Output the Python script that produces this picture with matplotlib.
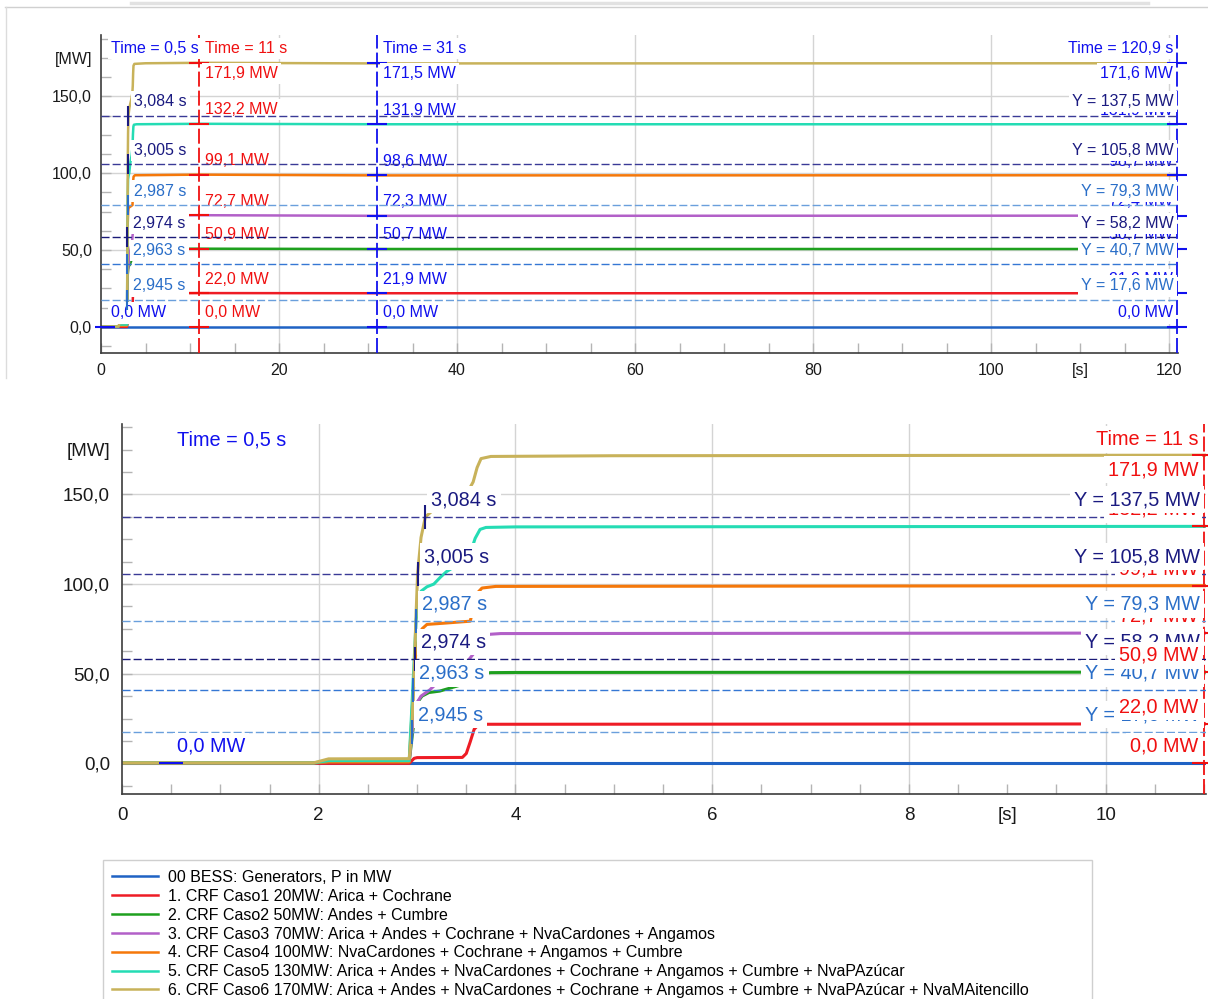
import matplotlib.pyplot as plt
from matplotlib.lines import Line2D
from matplotlib.patches import Rectangle
from matplotlib.ticker import MultipleLocator

plt.rcParams['font.family'] = ['Liberation Sans', 'DejaVu Sans']
plt.rcParams['lines.scale_dashes'] = False

W, H = 1208, 999

# curves: time [s], active power [MW]
t_bess = [0, 121]
p_bess = [0.0, 0.0]

t_caso1 = [0, 2.92, 2.97, 3.0, 3.46, 3.5, 3.54, 3.58, 3.62, 3.7, 11, 31, 121]
p_caso1 = [0.0, 0.0, 2.8, 3.2, 3.3, 5.5, 12.0, 19.0, 21.3, 21.8, 22.0, 21.9, 21.9]

t_caso2 = [0, 1.95, 2.1, 2.92, 2.95, 2.99, 3.05, 3.12, 3.23, 3.4, 3.55, 3.62, 3.68, 3.75, 4.0, 11, 31, 121]
p_caso2 = [0.2, 0.2, 1.0, 1.0, 15.0, 33.0, 37.5, 39.5, 40.3, 43.0, 45.5, 48.5, 50.2, 50.6, 50.7, 50.9, 50.7, 50.7]

t_caso3 = [0, 1.95, 2.1, 2.92, 2.95, 2.99, 3.04, 3.13, 3.3, 3.5, 3.6, 3.67, 3.74, 3.85, 11, 31, 121]
p_caso3 = [0.2, 0.2, 1.0, 1.0, 18.0, 33.0, 37.5, 41.0, 50.0, 56.0, 63.0, 70.0, 72.0, 72.4, 72.7, 72.3, 72.4]

t_caso4 = [0, 1.95, 2.1, 2.92, 2.95, 2.99, 3.05, 3.1, 3.3, 3.54, 3.58, 3.62, 3.66, 3.8, 11, 31, 121]
p_caso4 = [0.3, 0.3, 0.8, 0.8, 30.0, 65.0, 75.0, 77.5, 78.3, 79.3, 88.0, 95.5, 97.8, 98.7, 99.1, 98.6, 98.7]

t_caso5 = [0, 1.95, 2.1, 2.92, 2.95, 2.99, 3.04, 3.1, 3.17, 3.24, 3.3, 3.45, 3.54, 3.59, 3.64, 3.7, 4.0, 11, 31, 121]
p_caso5 = [0.3, 0.3, 1.5, 1.5, 35.0, 80.0, 96.0, 98.5, 100.0, 104.0, 107.0, 112.0, 117.0, 125.5, 130.5, 131.6, 131.9, 132.2, 131.9, 131.9]

t_caso6 = [0, 1.95, 2.1, 2.92, 2.945, 2.963, 2.974, 2.987, 3.005, 3.04, 3.084, 3.2, 3.4, 3.52, 3.57, 3.61, 3.65, 3.75, 5.0, 11, 31, 121]
p_caso6 = [0.3, 0.3, 2.5, 2.6, 17.6, 40.7, 58.2, 79.3, 105.8, 126.0, 137.5, 143.0, 148.0, 152.0, 157.0, 165.0, 170.0, 171.2, 171.6, 171.9, 171.5, 171.6]

names = [
    "00 BESS: Generators, P in MW",
    "1. CRF Caso1 20MW: Arica + Cochrane",
    "2. CRF Caso2 50MW: Andes + Cumbre",
    "3. CRF Caso3 70MW: Arica + Andes + Cochrane + NvaCardones + Angamos",
    "4. CRF Caso4 100MW: NvaCardones + Cochrane + Angamos + Cumbre",
    "5. CRF Caso5 130MW: Arica + Andes + NvaCardones + Cochrane + Angamos + Cumbre + NvaPAzúcar",
    "6. CRF Caso6 170MW: Arica + Andes + NvaCardones + Cochrane + Angamos + Cumbre + NvaPAzúcar + NvaMAitencillo",
]
colors = ['#1f62c4', '#ee1c25', '#1ea01e', '#b260c8', '#f5780a', '#24dcb4', '#c8b25a']
times = [t_bess, t_caso1, t_caso2, t_caso3, t_caso4, t_caso5, t_caso6]
powers = [p_bess, p_caso1, p_caso2, p_caso3, p_caso4, p_caso5, p_caso6]

# horizontal (Y) cursors: level and the time the Caso6 curve crosses it
ycur_values = [137.5, 105.8, 79.3, 58.2, 40.7, 17.6]
ycur_times = [3.084, 3.005, 2.987, 2.974, 2.963, 2.945]
ycur_line_colors = ['#3a3a96', '#3a3a96', '#6a9fdc', '#1a1a78', '#3577d4', '#6a9fdc']
ycur_text_colors = ['#1a1a80', '#1a1a80', '#2a6ec8', '#1a1a80', '#2a6ec8', '#2a6ec8']
ycur_layer = [5, 5, 5, 3.5, 3.5, 3.5]

# vertical (time) cursors and the values they read
vcur_times = [0.5, 11, 31, 120.9]
vcur_values = [
    [0.0],
    [171.9, 132.2, 99.1, 72.7, 50.9, 22.0, 0.0],
    [171.5, 131.9, 98.6, 72.3, 50.7, 21.9, 0.0],
    [171.6, 131.9, 98.7, 72.4, 50.7, 21.9, 0.0],
]
vcur_colors = ['#1010ee', '#f01010', '#1010ee', '#1010ee']
vcur_line = [False, True, True, True]
vcur_layer = [4, 4, 4, 3]

y_ticks = [0, 50, 100, 150]


def comma(v, f):
    return format(v, f).replace('.', ',')


def px_y(ax, y):
    return ax.transData.transform((0, y))[1]


def panel(ax, xmax, ylim, x_step, x_minor, x_unit, fs_tick, fs_lab, lw, off, gap,
          mk, dash_z, xpad, ypad, rdx):
    ax.set_xlim(0, xmax)
    ax.set_ylim(*ylim)
    for s in ['top', 'right']:
        ax.spines[s].set_visible(False)
    for s in ['left', 'bottom']:
        ax.spines[s].set_color('#3c3c3c')
        ax.spines[s].set_linewidth(1.2)
        ax.spines[s].set_zorder(2.4)

    x_major = [x_step * i for i in range(int(xmax // x_step) + 1)]
    for x in x_major[1:]:
        ax.axvline(x, color='#d4d4d4', lw=1, zorder=0.5)
    for y in y_ticks[1:]:
        ax.axhline(y, color='#d4d4d4', lw=1, zorder=0.5)

    ax.set_xticks(x_major + [x_unit])
    ax.set_xticklabels([str(int(x)) for x in x_major] + ['[s]'])
    ax.set_yticks(y_ticks + [175])
    ax.set_yticklabels([comma(v, '.1f') for v in y_ticks] + ['[MW]'])
    ax.xaxis.set_minor_locator(MultipleLocator(x_minor))
    ax.yaxis.set_minor_locator(MultipleLocator(12.5))
    ax.tick_params(which='both', direction='in', color='#b4b4b4', length=7, width=1,
                   labelsize=fs_tick, labelcolor='#1a1a1a')
    ax.tick_params(axis='x', which='both', pad=xpad)
    ax.tick_params(axis='y', which='both', pad=ypad)

    lines = []
    for t, p, c, n in zip(times, powers, colors, names):
        ln, = ax.plot(t, p, color=c, lw=lw, label=n, zorder=2, solid_joinstyle='round')
        lines.append(ln)

    box = dict(boxstyle='square,pad=0.2', fc='white', ec='none')

    # Y cursors
    for v, tc, lc, tx, z in zip(ycur_values, ycur_times, ycur_line_colors,
                                ycur_text_colors, ycur_layer):
        ax.axhline(v, color=lc, lw=1, ls=(0, (5.8, 2.2)), zorder=dash_z)
        ax.plot([tc], [v], ls='none', marker='|', ms=mk, mew=1.5, color=tx, zorder=dash_z + 0.1)
        ax.annotate(comma(tc, '.3f') + ' s', (tc, v), xytext=(6, off), textcoords='offset pixels',
                    ha='left', va='center', color=tx, fontsize=fs_lab, zorder=z, bbox=box)
        ax.annotate('Y = ' + comma(v, '.1f') + ' MW', (xmax, v), xytext=(rdx, off),
                    textcoords='offset pixels', ha='right', va='center', color=tx,
                    fontsize=fs_lab, zorder=z, bbox=box)

    # time cursors
    y_time = ylim[0] + 0.958 * (ylim[1] - ylim[0])
    t_px = px_y(ax, y_time)
    for tc, vals, col, has_line, z in zip(vcur_times, vcur_values, vcur_colors,
                                          vcur_line, vcur_layer):
        if tc > xmax:
            continue
        if has_line:
            ax.axvline(tc, color=col, lw=1.3, ls=(0, (10.8, 2.9)), zorder=2.5)
        ax.plot([tc] * len(vals), vals, ls='none', marker='_', ms=mk, mew=1.5,
                color=col, zorder=2.6, clip_on=False)
        right = tc > 0.9 * xmax
        ha = 'right' if right else 'left'
        dx = rdx if right else 6
        ax.annotate('Time = ' + comma(tc, 'g') + ' s', (tc, y_time), xytext=(dx, 0),
                    textcoords='offset pixels', ha=ha, va='center', color=col,
                    fontsize=fs_lab, zorder=z, bbox=box)
        for v in vals:
            v_px = px_y(ax, v)
            dy = min(v_px + off, t_px - gap) - v_px
            ax.annotate(comma(v, '.1f') + ' MW', (tc, v), xytext=(dx, dy),
                        textcoords='offset pixels', ha=ha, va='center', color=col,
                        fontsize=fs_lab, zorder=z, bbox=box)
    return lines


fig = plt.figure(figsize=(W / 100, H / 100), dpi=100)

ax1 = fig.add_axes([101 / W, 1 - 353 / H, (1178 - 101) / W, (353 - 35) / H])
lines = panel(ax1, 121, (-17, 190), 20, 5, 110, 11.5, 11.5, 1.8, 14, 25, 14, 6,
              7, 6.5, -4)

ax2 = fig.add_axes([122 / W, 1 - 794 / H, (1206 - 122) / W, (794 - 424) / H])
panel(ax2, 11.02, (-17.1, 189.3), 2, 0.5, 9, 13.5, 14.3, 2.2, 17, 30, 17, 2.8,
      9, 8.6, -6)

# window chrome around the plots
fig.add_artist(Line2D([5 / W, 1], [1 - 7 / H] * 2, color='#d0d0d0', lw=1))
fig.add_artist(Line2D([131 / W, 1148 / W], [1 - 2.5 / H] * 2, color='#e2e2e2', lw=2.5))
fig.add_artist(Line2D([6 / W] * 2, [1 - 7 / H, 1 - 378 / H], color='#dcdcdc', lw=1))
fig.add_artist(Rectangle((103 / W, -0.01), (1092 - 103) / W, (999 - 860) / H + 0.01,
                         transform=fig.transFigure, fill=False, ec='#cfcfcf', lw=1))

fig.legend(handles=lines, labels=names, loc='upper left',
           bbox_to_anchor=(112 / W, 1 - 870 / H), frameon=False, fontsize=11.5,
           handlelength=2.9, handletextpad=0.62, labelspacing=0.24,
           borderaxespad=0, borderpad=0)

fig.savefig('out.png', dpi=100)
